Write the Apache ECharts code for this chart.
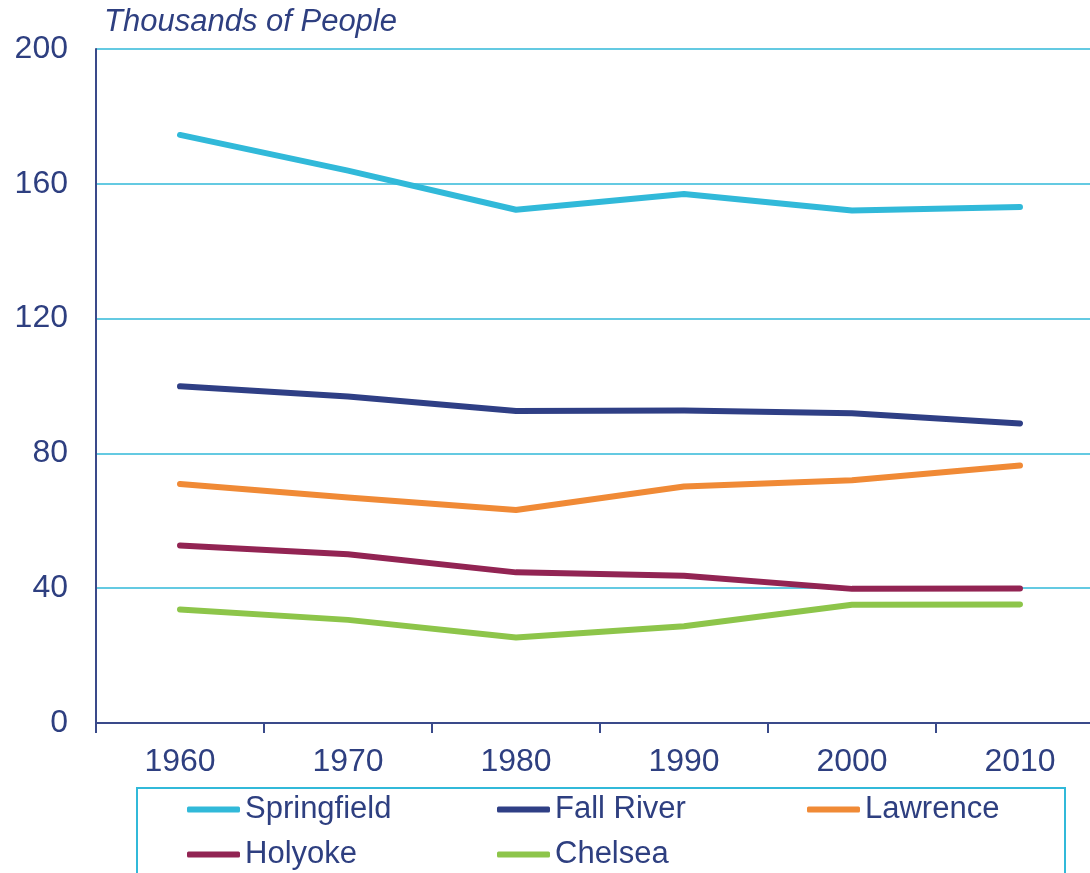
<!DOCTYPE html>
<html><head><meta charset="utf-8">
<script src="https://cdn.jsdelivr.net/npm/echarts@6/dist/echarts.min.js"></script>
<style>html,body{margin:0;padding:0;background:#fff}#c{width:1090px;height:873px}</style>
</head><body><div id="c"></div>
<script>
const years = ['1960','1970','1980','1990','2000','2010'];
const springfield = [174.5, 163.9, 152.3, 157.0, 152.1, 153.1];
const fallRiver = [99.9, 96.9, 92.6, 92.7, 91.9, 88.9];
const lawrence = [70.9, 66.9, 63.2, 70.2, 72.0, 76.4];
const holyoke = [52.7, 50.1, 44.7, 43.7, 39.8, 39.9];
const chelsea = [33.7, 30.6, 25.4, 28.7, 35.1, 35.2];
const seriesNames = ['Springfield','Fall River','Lawrence','Holyoke','Chelsea'];
const seriesColors = ['#31b9d9','#2f3f85','#f08a36','#922453','#8dc54a'];
const seriesData = [springfield, fallRiver, lawrence, holyoke, chelsea];
const yTicks = {min: 0, max: 200, interval: 40};

const textColor = '#2e3f80';
const font = 'Liberation Sans, Arial, sans-serif';
const legendPos = [[187, 794],[497, 794],[807, 794],[187, 839],[497, 839]];

const chart = echarts.init(document.getElementById('c'));
chart.setOption({
  animation: false,
  title: {text: 'Thousands of People', left: 99, top: 2,
    textStyle: {fontStyle: 'italic', fontWeight: 'normal', fontSize: 31, color: textColor, fontFamily: font}},
  grid: {left: 96, top: 49, right: -14, bottom: 150, containLabel: false, outerBoundsMode: 'none'},
  xAxis: {type: 'category', data: years, boundaryGap: true,
    axisLine: {lineStyle: {color: '#3a4a8a', width: 2}},
    axisTick: {show: true, length: 10, lineStyle: {color: '#3a4a8a', width: 2}},
    axisLabel: {fontSize: 32, color: textColor, fontFamily: font, margin: 23},
    splitLine: {show: false}},
  yAxis: {type: 'value', min: yTicks.min, max: yTicks.max, interval: yTicks.interval,
    axisLine: {show: true, lineStyle: {color: '#3a4a8a', width: 2}},
    axisTick: {show: false},
    axisLabel: {fontSize: 32, color: textColor, fontFamily: font, margin: 28},
    splitLine: {show: true, lineStyle: {color: '#31b9d9', width: 1.5}}},
  legend: seriesNames.map((n, i) => ({
    data: [n], left: legendPos[i][0], top: legendPos[i][1], padding: 0,
    icon: 'roundRect', itemWidth: 53, itemHeight: 6, itemGap: 0,
    textStyle: {fontSize: 31, color: textColor, fontFamily: font}
  })),
  graphic: [{type: 'rect', shape: {x: 137, y: 788, width: 928, height: 200},
    style: {fill: 'none', stroke: '#31b9d9', lineWidth: 2}, z: 0}],
  series: seriesNames.map((n, i) => ({
    name: n, type: 'line', data: seriesData[i], color: seriesColors[i],
    showSymbol: false, symbol: 'none',
    lineStyle: {width: 6, color: seriesColors[i], cap: 'round', join: 'round'}
  }))
});
</script></body></html>
